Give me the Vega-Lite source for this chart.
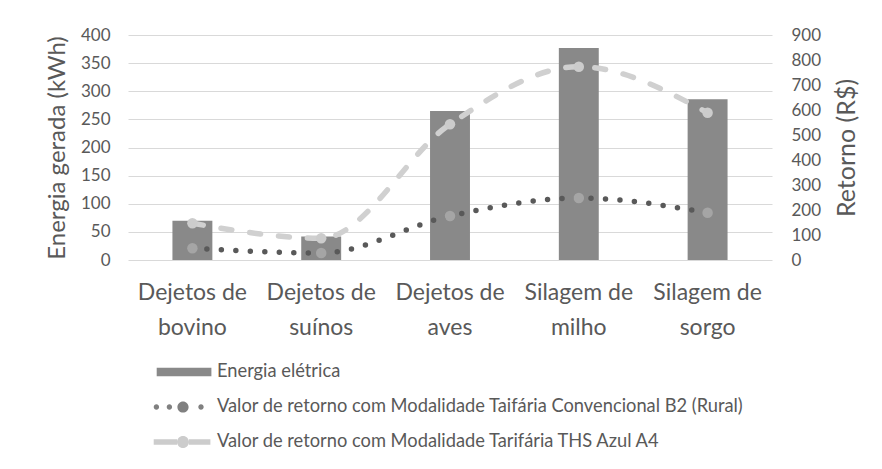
{
  "$schema": "https://vega.github.io/schema/vega-lite/v6.json",
  "width": 644,
  "height": 225,
  "autosize": "none",
  "padding": {"left": 128, "top": 35, "right": 110, "bottom": 209},
  "background": "#ffffff",
  "config": {
    "font": "Lato",
    "view": {"stroke": null},
    "axis": {"labelColor": "#595959", "titleColor": "#595959", "titleFontWeight": "normal"}
  },
  "data": {
    "values": [
      {"categoria": "Dejetos de bovino", "serie": "Energia elétrica", "valor": 70},
      {"categoria": "Dejetos de suínos", "serie": "Energia elétrica", "valor": 42},
      {"categoria": "Dejetos de aves", "serie": "Energia elétrica", "valor": 265},
      {"categoria": "Silagem de milho", "serie": "Energia elétrica", "valor": 377},
      {"categoria": "Silagem de sorgo", "serie": "Energia elétrica", "valor": 286},
      {"categoria": "Dejetos de bovino", "serie": "Valor de retorno com Modalidade Taifária Convencional B2 (Rural)", "valor": 47},
      {"categoria": "Dejetos de suínos", "serie": "Valor de retorno com Modalidade Taifária Convencional B2 (Rural)", "valor": 28},
      {"categoria": "Dejetos de aves", "serie": "Valor de retorno com Modalidade Taifária Convencional B2 (Rural)", "valor": 176},
      {"categoria": "Silagem de milho", "serie": "Valor de retorno com Modalidade Taifária Convencional B2 (Rural)", "valor": 248},
      {"categoria": "Silagem de sorgo", "serie": "Valor de retorno com Modalidade Taifária Convencional B2 (Rural)", "valor": 189},
      {"categoria": "Dejetos de bovino", "serie": "Valor de retorno com Modalidade Tarifária THS Azul A4", "valor": 147},
      {"categoria": "Dejetos de suínos", "serie": "Valor de retorno com Modalidade Tarifária THS Azul A4", "valor": 87},
      {"categoria": "Dejetos de aves", "serie": "Valor de retorno com Modalidade Tarifária THS Azul A4", "valor": 543},
      {"categoria": "Silagem de milho", "serie": "Valor de retorno com Modalidade Tarifária THS Azul A4", "valor": 773},
      {"categoria": "Silagem de sorgo", "serie": "Valor de retorno com Modalidade Tarifária THS Azul A4", "valor": 589}
    ]
  },
  "encoding": {
    "x": {
      "field": "categoria",
      "type": "nominal",
      "sort": null,
      "scale": {"paddingInner": 0.69, "paddingOuter": 0.345},
      "axis": {
        "title": null,
        "labelAngle": 0,
        "domain": false,
        "ticks": false,
        "labelFontSize": 23,
        "labelPadding": 21,
        "labelLineHeight": 35,
        "labelColor": "#595959",
        "labelExpr": "[slice(datum.label, 0, lastindexof(datum.label, ' ')), slice(datum.label, lastindexof(datum.label, ' ') + 1)]"
      }
    }
  },
  "layer": [
    {
      "transform": [{"filter": "datum.serie === 'Energia elétrica'"}],
      "mark": {"type": "bar", "color": "#898989"},
      "encoding": {
        "y": {
          "field": "valor",
          "type": "quantitative",
          "scale": {"domain": [0, 400]},
          "axis": {
            "title": "Energia gerada (kWh)",
            "titleFontSize": 24,
            "titlePadding": 11,
            "values": [0, 50, 100, 150, 200, 250, 300, 350, 400],
            "grid": true,
            "gridColor": "#d9d9d9",
            "gridWidth": 1,
            "domain": false,
            "ticks": false,
            "labelFontSize": 17,
            "labelPadding": 18
          }
        }
      }
    },
    {
      "transform": [{"filter": "datum.serie !== 'Energia elétrica'"}],
      "encoding": {
        "y": {
          "field": "valor",
          "type": "quantitative",
          "scale": {"domain": [0, 900]},
          "axis": {
            "orient": "right",
            "title": "Retorno (R$)",
            "titleFontSize": 25,
            "titleAngle": 270,
            "titleBaseline": "top",
            "titlePadding": 14,
            "values": [0, 100, 200, 300, 400, 500, 600, 700, 800, 900],
            "grid": false,
            "domain": false,
            "ticks": false,
            "labelFontSize": 17,
            "labelPadding": 19
          }
        }
      },
      "layer": [
        {
          "mark": {"type": "point", "filled": true, "opacity": 0, "size": 10},
          "encoding": {
            "shape": {
              "field": "serie",
              "type": "nominal",
              "scale": {
                "domain": ["Energia elétrica", "Valor de retorno com Modalidade Taifária Convencional B2 (Rural)", "Valor de retorno com Modalidade Tarifária THS Azul A4"],
                "range": [
                  "M-2.63,-0.42H2.84V0.42H-2.63Z",
                  "M-2.93,0A0.27,0.27,0,1,0,-2.39,0A0.27,0.27,0,1,0,-2.93,0Z M-1.63,0A0.27,0.27,0,1,0,-1.09,0A0.27,0.27,0,1,0,-1.63,0Z M-0.56,0A0.56,0.56,0,1,0,0.56,0A0.56,0.56,0,1,0,-0.56,0Z M1.53,0A0.27,0.27,0,1,0,2.07,0A0.27,0.27,0,1,0,1.53,0Z",
                  "M-2.93,-0.27H-0.6V0.27H-2.93Z M0.6,-0.27H2.74V0.27H0.6Z M-0.6,0A0.6,0.6,0,1,0,0.6,0A0.6,0.6,0,1,0,-0.6,0Z"
                ]
              },
              "legend": {
                "title": null,
                "orient": "none",
                "legendX": 45,
                "legendY": 327,
                "direction": "vertical",
                "labelFontSize": 18.3,
                "labelColor": "#595959",
                "labelLimit": 0,
                "symbolSize": 400,
                "symbolOpacity": 1,
                "symbolStrokeWidth": 0,
                "rowPadding": 16,
                "labelOffset": 24
              }
            },
            "fill": {
              "field": "serie",
              "type": "nominal",
              "scale": {
                "domain": ["Energia elétrica", "Valor de retorno com Modalidade Taifária Convencional B2 (Rural)", "Valor de retorno com Modalidade Tarifária THS Azul A4"],
                "range": ["#898989", "#808080", "#cccccc"]
              },
              "legend": {
                "title": null,
                "orient": "none",
                "legendX": 45,
                "legendY": 327,
                "direction": "vertical",
                "labelFontSize": 18.3,
                "labelColor": "#595959",
                "labelLimit": 0,
                "symbolSize": 400,
                "symbolOpacity": 1,
                "symbolStrokeWidth": 0,
                "rowPadding": 16,
                "labelOffset": 24
              }
            }
          }
        },
        {
          "mark": {"type": "line", "interpolate": "monotone", "strokeWidth": 5.5, "strokeCap": "round"},
          "encoding": {
            "detail": {"field": "serie"},
            "stroke": {
              "field": "serie",
              "type": "nominal",
              "scale": {
                "domain": ["Valor de retorno com Modalidade Tarifária THS Azul A4", "Valor de retorno com Modalidade Taifária Convencional B2 (Rural)"],
                "range": ["#d0d0d0", "#595959"]
              },
              "legend": null
            },
            "strokeDash": {
              "field": "serie",
              "type": "nominal",
              "scale": {
                "domain": ["Valor de retorno com Modalidade Tarifária THS Azul A4", "Valor de retorno com Modalidade Taifária Convencional B2 (Rural)"],
                "range": [[11, 18], [0, 14.5]]
              },
              "legend": null
            }
          }
        },
        {
          "mark": {"type": "point", "filled": true, "size": 110, "opacity": 1},
          "encoding": {
            "color": {
              "field": "serie",
              "type": "nominal",
              "scale": {
                "domain": ["Valor de retorno com Modalidade Taifária Convencional B2 (Rural)", "Valor de retorno com Modalidade Tarifária THS Azul A4"],
                "range": ["#a5a5a5", "#cccccc"]
              },
              "legend": null
            }
          }
        }
      ]
    }
  ],
  "resolve": {"scale": {"y": "independent"}}
}
